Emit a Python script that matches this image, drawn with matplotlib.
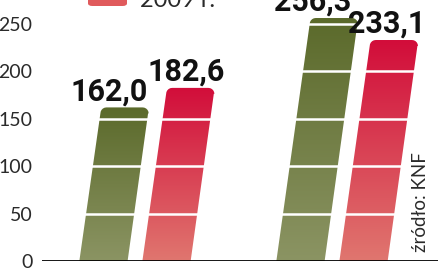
import numpy as np
import matplotlib.pyplot as plt
from matplotlib.path import Path
from matplotlib.patches import PathPatch, FancyBboxPatch
from matplotlib.colors import LinearSegmentedColormap

# data
groups = [0, 1]
vals_prev = [162.0, 256.3]
vals_2009 = [182.6, 233.1]
labels_prev = ["162,0", "256,3"]
labels_2009 = ["182,6", "233,1"]
yticks = [0, 50, 100, 150, 200, 250]

green = LinearSegmentedColormap.from_list("g", ["#8b9463", "#5b6a2b"])
red = LinearSegmentedColormap.from_list("r", ["#e0766f", "#d20d3a"])
light = "Lato"

fig = plt.figure(figsize=(4.39, 2.68), dpi=100)
ax = fig.add_axes([42 / 439, 7 / 268, 1 - 42 / 439, 261 / 268])
ax.set_xlim(-0.472, 1.543)
ax.set_ylim(0, 275.3)

px_x = 197.0          # pixels per x unit
px_y = 261 / 275.3    # pixels per y unit
skew = 0.13 / px_x    # x shift per value unit
width = 0.245


def slanted_bar(x0, v, cmap, label, dx):
    # parallelogram, leaning right, with rounded top corners
    r = 6 / px_x
    ry = 6 / px_y
    xl, xr = x0 - width / 2, x0 + width / 2
    s = v * skew
    pts = [(xl, 0), (xr, 0), (xr + s - r * 0.1, v - ry)]
    for a in np.linspace(0, np.pi / 2, 6):
        pts.append((xr + s - r + r * np.cos(a), v - ry + ry * np.sin(a)))
    for a in np.linspace(np.pi / 2, np.pi, 6):
        pts.append((xl + s + r + r * np.cos(a), v - ry + ry * np.sin(a)))
    pts.append((xl, 0))
    path = Path(pts, [Path.MOVETO] + [Path.LINETO] * (len(pts) - 2) + [Path.CLOSEPOLY])
    patch = PathPatch(path, facecolor="none", edgecolor="none")
    ax.add_patch(patch)
    grad = np.linspace(0, 1, 256).reshape(-1, 1)
    im = ax.imshow(grad, cmap=cmap, origin="lower", aspect="auto",
                   extent=[xl, xr + s, 0, v], zorder=2)
    im.set_clip_path(patch)
    ax.text(x0 + s / 2 + dx / px_x, v + 7 / px_y, label, ha="center", va="baseline",
            fontsize=22, fontweight="bold", family="Roboto",
            color="#111111", zorder=5)


off = 0.16
for i, g in enumerate(groups):
    slanted_bar(g - off, vals_prev[i], green, labels_prev[i], -5)
    slanted_bar(g + off, vals_2009[i], red, labels_2009[i], 8)

for t in yticks[1:]:
    ax.axhline(t, color="white", lw=1.8, zorder=3)

ax.set_aspect("auto")
ax.set_xlim(-0.472, 1.543)
ax.set_ylim(0, 275.3)
ax.axhline(0, color="black", lw=2, zorder=4)

for s in ax.spines.values():
    s.set_visible(False)
ax.set_xticks([])
ax.set_yticks(yticks)
ax.set_yticklabels([str(t) for t in yticks], fontsize=14, color="#2a2a2a",
                   family=light)
ax.tick_params(axis="y", length=0, pad=7)

# legend, cut off at the top
fig.patches.append(FancyBboxPatch((88 / 439, 262 / 268), 39 / 439, 12 / 268,
                                  boxstyle="round,pad=0,rounding_size=0.01",
                                  transform=fig.transFigure, facecolor="#e05a5c",
                                  edgecolor="none"))
fig.text(140 / 439, 1 - 7 / 268, "2009 r.", fontsize=17, color="#2a2a2a",
         va="baseline", ha="left", family=light)

fig.text(421 / 439, 16 / 268, "źródło: KNF", rotation=90, fontsize=13.5,
         color="#2a2a2a", ha="center", va="bottom", family=light)

fig.savefig("out.png", dpi=100)
